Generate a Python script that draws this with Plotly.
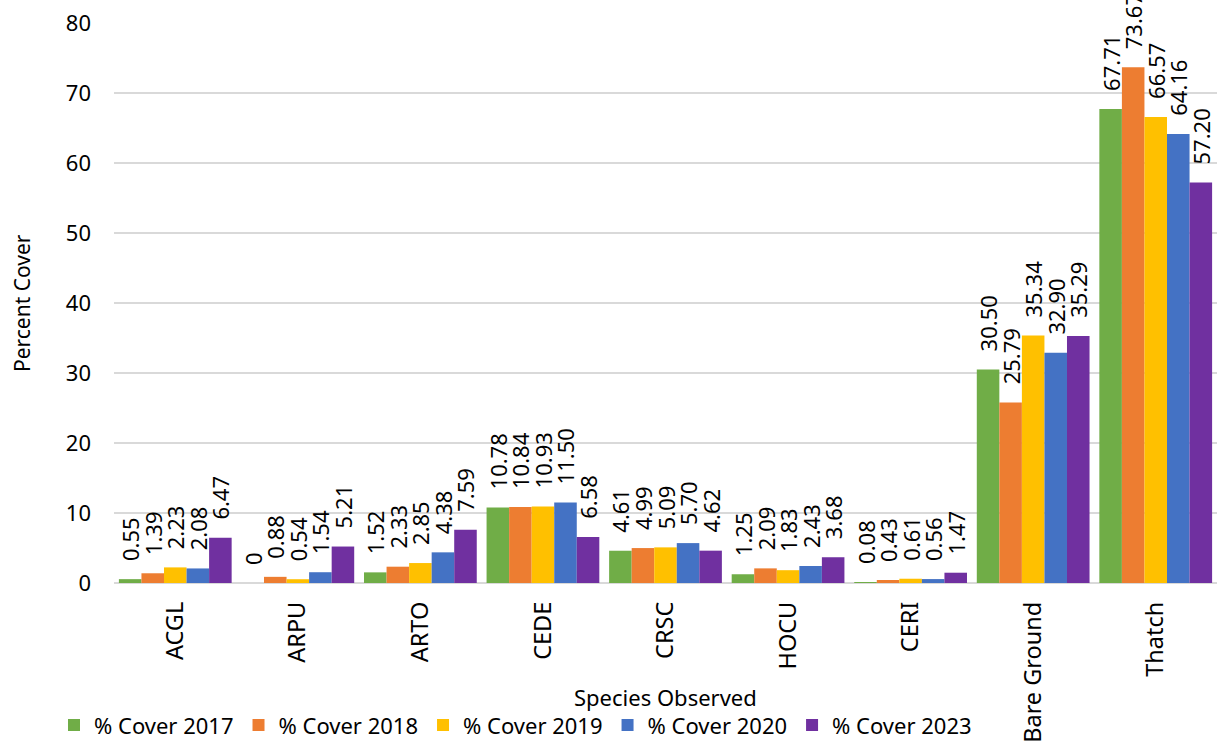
import plotly.graph_objects as go

species = ["ACGL", "ARPU", "ARTO", "CEDE", "CRSC", "HOCU", "CERI", "Bare Ground", "Thatch"]
cover_2017 = [0.55, 0, 1.52, 10.78, 4.61, 1.25, 0.08, 30.50, 67.71]
cover_2018 = [1.39, 0.88, 2.33, 10.84, 4.99, 2.09, 0.43, 25.79, 73.67]
cover_2019 = [2.23, 0.54, 2.85, 10.93, 5.09, 1.83, 0.61, 35.34, 66.57]
cover_2020 = [2.08, 1.54, 4.38, 11.50, 5.70, 2.43, 0.56, 32.90, 64.16]
cover_2023 = [6.47, 5.21, 7.59, 6.58, 4.62, 3.68, 1.47, 35.29, 57.20]

series = [
    ("% Cover 2017", cover_2017, "#70ad47"),
    ("% Cover 2018", cover_2018, "#ed7d31"),
    ("% Cover 2019", cover_2019, "#ffc000"),
    ("% Cover 2020", cover_2020, "#4472c4"),
    ("% Cover 2023", cover_2023, "#7030a0"),
]

FONT = "Noto Sans"
# leading padding keeps the value labels clear of the bar tops
PAD = "\u00a0\u00a0\u2009"


def fmt(v):
    return PAD + ("0" if v == 0 else f"{v:.2f}")


fig = go.Figure()
for name, vals, color in series:
    fig.add_trace(go.Bar(
        name=name,
        x=species,
        y=vals,
        marker=dict(color=color, line=dict(width=0)),
        text=[fmt(v) for v in vals],
        textposition="outside",
        textangle=-90,
        textfont=dict(family=FONT, size=22, color="#000000"),
        cliponaxis=False,
        constraintext="none",
    ))

fig.update_layout(
    width=1217,
    height=742,
    barmode="group",
    bargap=0.08,
    bargroupgap=0,
    plot_bgcolor="white",
    paper_bgcolor="white",
    margin=dict(l=114, r=0, t=23, b=159, autoexpand=False),
    font=dict(family=FONT, color="#000000"),
    legend=dict(
        orientation="h",
        x=-0.0544, xanchor="left",
        y=-0.254, yanchor="middle",
        font=dict(family=FONT, size=22),
        itemwidth=30,
        traceorder="normal",
        bgcolor="rgba(0,0,0,0)",
    ),
    xaxis=dict(
        tickangle=-90,
        tickfont=dict(family=FONT, size=23.5),
        showgrid=False,
        showline=False,
        ticks="",
        ticklabelstandoff=13,
        automargin=False,
    ),
    yaxis=dict(
        range=[0, 80],
        dtick=10,
        tickfont=dict(family=FONT, size=22),
        gridcolor="#d9d9d9",
        gridwidth=1.5,
        zeroline=True,
        zerolinecolor="#d9d9d9",
        zerolinewidth=1.5,
        showline=False,
        ticks="",
        ticklabelstandoff=22,
        automargin=False,
    ),
    annotations=[
        dict(
            text="Species Observed",
            x=0.5, xref="paper",
            y=-0.204, yref="paper",
            xanchor="center", yanchor="middle",
            showarrow=False,
            font=dict(family=FONT, size=22),
        ),
        dict(
            text="Percent Cover",
            textangle=-90,
            x=-0.0834, xref="paper",
            y=0.5, yref="paper",
            xanchor="center", yanchor="middle",
            showarrow=False,
            font=dict(family=FONT, size=21),
        ),
    ],
)

fig.write_html("out.html")
